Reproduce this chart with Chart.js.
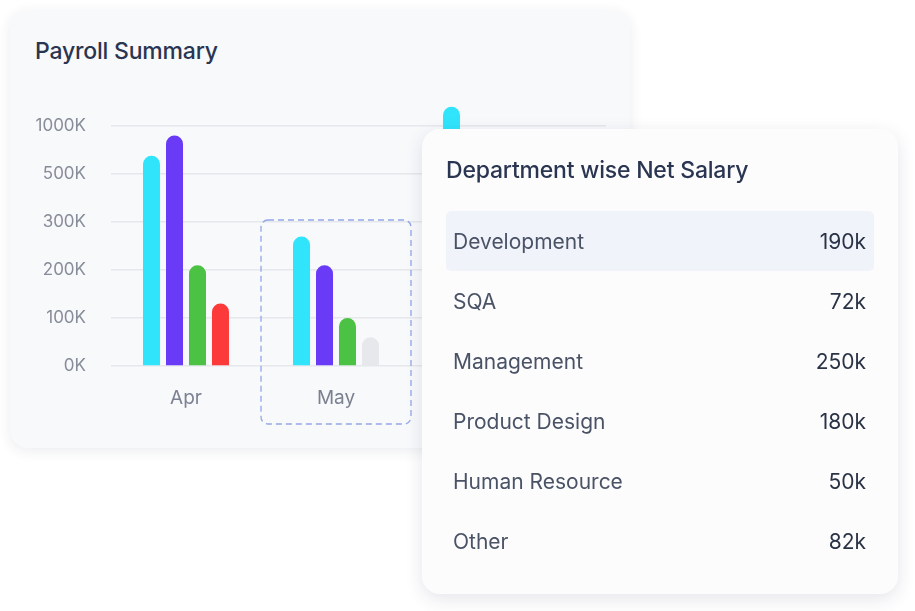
<!DOCTYPE html>
<html>
<head>
<meta charset="utf-8">
<script src="https://cdn.jsdelivr.net/npm/chart.js@4.4.0/dist/chart.umd.min.js"></script>
<style>
  html, body { margin: 0; padding: 0; background: #ffffff; }
  body { width: 915px; height: 611px; position: relative; overflow: hidden; font-family: Inter, "Noto Sans", sans-serif; }
  #card1 {
    position: absolute; left: 10px; top: 10px; width: 620px; height: 438px;
    background: #f8f9fb; border-radius: 18px;
    box-shadow: 0 3px 14px rgba(30, 40, 80, 0.09);
  }
  #title1 {
    position: absolute; left: 35px; top: 37px; font-size: 23px; font-weight: 500;
    color: #2a3551; letter-spacing: -0.2px;
  }
  #myChart { position: absolute; left: 0; top: 0; }
  #card2 {
    position: absolute; left: 422px; top: 129px; width: 476px; height: 465px;
    background: #fcfcfd; border-radius: 18px;
    box-shadow: 0 5px 18px rgba(30, 40, 80, 0.12);
  }
  #title2 {
    position: absolute; left: 24px; top: 27px; font-size: 23px; font-weight: 500;
    color: #2a3551; letter-spacing: -0.2px;
  }
  #rows { position: absolute; left: 24px; top: 82px; width: 428px; }
  .row {
    height: 60px; display: flex; justify-content: space-between; align-items: center;
    padding: 0 8px 0 7px; box-sizing: border-box; font-size: 21px; border-radius: 5px;
  }
  .row.first { background: #f1f3fa; }
  .row .name { color: #4a5366; }
  .row .val { color: #2a3346; }
</style>
</head>
<body>
<div id="card1"></div>
<div id="title1">Payroll Summary</div>
<canvas id="myChart" width="915" height="611"></canvas>
<div id="card2">
  <div id="title2">Department wise Net Salary</div>
  <div id="rows"></div>
</div>
<script>
// payroll per month, in K
const months = ['Apr', 'May', 'Jun'];
const tickLabels = ['0K', '100K', '200K', '300K', '500K', '1000K'];
const tickValues = [0, 100, 200, 300, 500, 1000];
const series1 = [690, 270, 1200];
const series2 = [900, 210, null];
const series3 = [210, 100, null];
const series4 = [130, 60, null];

// department list
const deptNames = ['Development', 'SQA', 'Management', 'Product Design', 'Human Resource', 'Other'];
const deptValues = ['190k', '72k', '250k', '180k', '50k', '82k'];

// y axis ticks are not evenly valued, so map value -> tick position
function toPos(v) {
    if (v == null) return null;
    for (let i = 1; i < tickValues.length; i++) {
        if (v <= tickValues[i]) {
            return i - 1 + (v - tickValues[i - 1]) / (tickValues[i] - tickValues[i - 1]);
        }
    }
    const n = tickValues.length - 1;
    return n + (v - tickValues[n]) / (tickValues[n] - tickValues[n - 1]);
}

function pts(arr) {
    return arr.map((v, i) => ({ x: i, y: toPos(v) }));
}

const rowsEl = document.getElementById('rows');
for (let i = 0; i < deptNames.length; i++) {
    const r = document.createElement('div');
    r.className = 'row' + (i === 0 ? ' first' : '');
    r.innerHTML = '<span class="name">' + deptNames[i] + '</span><span class="val">' + deptValues[i] + '</span>';
    rowsEl.appendChild(r);
}

// dashed box around the selected month
const highlightBox = {
    id: 'highlightBox',
    beforeDatasetsDraw(chart) {
        const { ctx, scales } = chart;
        const cx = scales.x.getPixelForValue(1);
        const half = (scales.x.getPixelForValue(1) - scales.x.getPixelForValue(0)) / 2;
        const top = scales.y.getPixelForValue(3) - 2;
        const bottom = chart.chartArea.bottom + 58;
        ctx.save();
        ctx.strokeStyle = '#93a6e8';
        ctx.lineWidth = 1.3;
        ctx.setLineDash([6, 4]);
        ctx.beginPath();
        ctx.roundRect(cx - half, top, half * 2, bottom - top, 7);
        ctx.stroke();
        ctx.restore();
    }
};

const common = {
    borderRadius: 9,
    borderSkipped: 'start',
    categoryPercentage: 0.613,
    barPercentage: 0.74,
};

const config = {
    type: 'bar',
    data: {
        datasets: [
            { data: pts(series1), backgroundColor: '#30e4fc', ...common },
            { data: pts(series2), backgroundColor: '#6a3bf7', ...common },
            { data: pts(series3), backgroundColor: '#4cc244', ...common },
            { data: pts(series4), backgroundColor: ['#fd3a3a', '#e7e8eb', '#fd3a3a'], ...common },
        ]
    },
    options: {
        responsive: false,
        animation: false,
        layout: { padding: { left: 0, right: 309, top: 102, bottom: 185 } },
        plugins: {
            legend: { display: false },
            tooltip: { enabled: false },
        },
        scales: {
            x: {
                type: 'linear',
                offset: false,
                min: -0.5,
                max: 2.8,
                afterBuildTicks: (s) => { s.ticks = months.map((m, i) => ({ value: i })); },
                afterFit: (s) => { s.height = 60; },
                ticks: {
                    callback: (v) => months[v],
                    color: '#7c8192',
                    font: { family: 'Inter', size: 19 },
                    padding: 13,
                    maxRotation: 0,
                },
                grid: { display: false },
                border: { display: false },
            },
            y: {
                min: 0,
                max: 5.5,
                afterBuildTicks: (s) => { s.ticks = tickLabels.map((t, i) => ({ value: i })); },
                afterFit: (s) => { s.width = 111; },
                ticks: {
                    callback: (v) => tickLabels[v],
                    color: '#878c99',
                    font: { family: 'Inter', size: 17 },
                    padding: 25,
                },
                grid: { color: '#e6e8ec', lineWidth: 1.5, drawTicks: false },
                border: { display: false },
            }
        }
    },
    plugins: [highlightBox]
};

const myChart = new Chart(document.getElementById('myChart'), config);
</script>
</body>
</html>
